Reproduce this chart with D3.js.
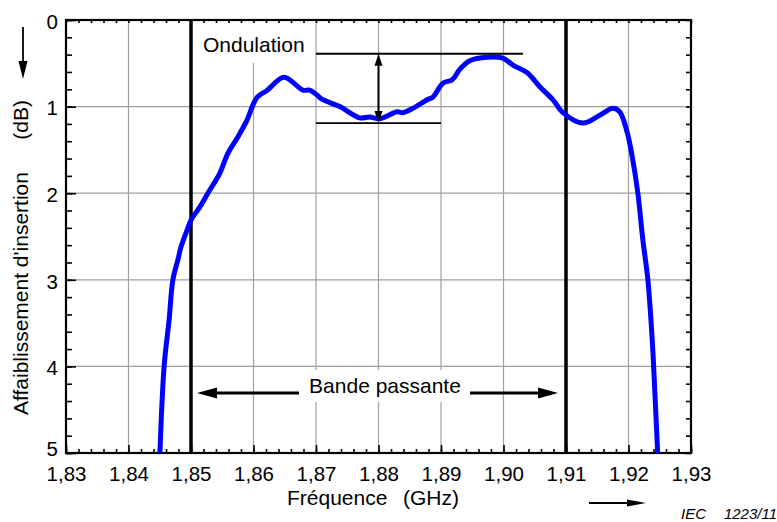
<!DOCTYPE html>
<html>
    <head>
        <meta charset="utf-8">
        <title>Affaiblissement d'insertion</title>
        <style>
            body { margin: 0; background: #fff; }
            text { font-family: Arial, "Liberation Sans", sans-serif; fill: #000; }
        </style>
    </head>
    <body>
        <div id="graph"></div>
        <script src="https://cdnjs.cloudflare.com/ajax/libs/d3/7.8.5/d3.min.js"></script>
        <script>
            // frequency (GHz) and insertion loss (dB)
            var freq = [1.8450, 1.8457, 1.8465, 1.8471, 1.8479, 1.8484, 1.8494, 1.8500, 1.8514, 1.8527,
                        1.8546, 1.8559, 1.8575, 1.8590, 1.8598, 1.8606, 1.8622, 1.8649, 1.8679, 1.8690,
                        1.8702, 1.8711, 1.8738, 1.8770, 1.8786, 1.8802, 1.8830, 1.8839, 1.8855, 1.8878,
                        1.8887, 1.8903, 1.8918, 1.8930, 1.8946, 1.8974, 1.8999, 1.9015, 1.9038, 1.9058,
                        1.9079, 1.9095, 1.9127, 1.9154, 1.9175, 1.9186, 1.9198, 1.9206, 1.9215, 1.9223,
                        1.9231, 1.9238, 1.9242, 1.9247];
            var loss = [5.05, 4.0, 3.46, 3.0, 2.77, 2.62, 2.42, 2.31, 2.16, 2.0,
                        1.77, 1.54, 1.35, 1.15, 1.0, 0.89, 0.81, 0.66, 0.81, 0.81,
                        0.87, 0.92, 1.0, 1.13, 1.12, 1.14, 1.06, 1.07, 1.02, 0.92,
                        0.89, 0.73, 0.69, 0.57, 0.47, 0.43, 0.44, 0.52, 0.61, 0.77,
                        0.92, 1.07, 1.19, 1.10, 1.02, 1.06, 1.30, 1.58, 2.0, 2.54,
                        3.0, 3.70, 4.27, 5.05];

            var xTicks = [1.83, 1.84, 1.85, 1.86, 1.87, 1.88, 1.89, 1.90, 1.91, 1.92, 1.93];
            var yTicks = [0, 1, 2, 3, 4, 5];
            var passBand = [1.85, 1.91];
            var rippleTop = 0.39, rippleBottom = 1.19;   // dB

            var width = 777, height = 522;
            var x = d3.scaleLinear().domain([1.83, 1.93]).range([66, 691]);
            var y = d3.scaleLinear().domain([0, 5]).range([20, 453]);

            var fmt = function(d) { return d3.format(".2f")(d).replace(".", ","); };
            var xMinor = d3.range(1.83, 1.9301, 0.002);
            var yMinor = d3.range(0, 5.001, 0.2);

            var svg = d3.select("#graph").append("svg")
                .attr("width", width)
                .attr("height", height);

            svg.append("defs").append("clipPath").attr("id", "plot")
                .append("rect")
                .attr("x", x(1.83)).attr("y", y(0))
                .attr("width", x(1.93) - x(1.83)).attr("height", y(5) - y(0));

            // grid
            svg.selectAll(".vgrid")
                .data(xTicks.filter(function(d, i) { return i > 0 && i < xTicks.length - 1 && passBand.indexOf(d) < 0; }))
                .enter().append("line")
                .attr("x1", function(d) { return x(d); }).attr("x2", function(d) { return x(d); })
                .attr("y1", y(0)).attr("y2", y(5))
                .style("stroke", "#a0a0a0").style("stroke-width", 1.2);
            svg.selectAll(".hgrid")
                .data(yTicks.slice(1, -1))
                .enter().append("line")
                .attr("x1", x(1.83)).attr("x2", x(1.93))
                .attr("y1", function(d) { return y(d); }).attr("y2", function(d) { return y(d); })
                .style("stroke", "#a0a0a0").style("stroke-width", 1.2);

            // white boxes behind labels
            svg.append("rect").attr("x", 197).attr("y", 22).attr("width", 116).attr("height", 41).attr("fill", "#fff");
            svg.append("rect").attr("x", 300).attr("y", 370).attr("width", 169).attr("height", 32).attr("fill", "#fff");

            // pass band limits
            svg.selectAll(".band")
                .data(passBand)
                .enter().append("line")
                .attr("x1", function(d) { return x(d); }).attr("x2", function(d) { return x(d); })
                .attr("y1", y(0)).attr("y2", y(5))
                .style("stroke", "#000").style("stroke-width", 3.5);

            // axes ticks
            var tickStyle = function(g) {
                g.select(".domain").remove();
                g.selectAll("line").style("stroke", "#000").style("stroke-width", 1.6);
                g.selectAll("text").style("font-size", "20.5px").style("font-family", "Arial, 'Liberation Sans', sans-serif");
            };
            svg.append("g").attr("transform", "translate(0," + y(5) + ")")
                .call(d3.axisBottom(x).tickValues(xMinor).tickSize(-4).tickFormat("")).call(tickStyle);
            svg.append("g").attr("transform", "translate(0," + y(5) + ")")
                .call(d3.axisBottom(x).tickValues(xTicks).tickSize(-8).tickPadding(13).tickFormat(fmt)).call(tickStyle);
            svg.append("g").attr("transform", "translate(0," + y(0) + ")")
                .call(d3.axisTop(x).tickValues(xMinor).tickSize(-3).tickFormat("")).call(tickStyle);
            svg.append("g").attr("transform", "translate(" + x(1.83) + ",0)")
                .call(d3.axisLeft(y).tickValues(yMinor).tickSize(-6).tickFormat("")).call(tickStyle);
            svg.append("g").attr("transform", "translate(" + x(1.83) + ",0)")
                .call(d3.axisLeft(y).tickValues(yTicks).tickSize(-10).tickPadding(8).tickFormat(d3.format("d")))
                .call(tickStyle)
                .selectAll("text").attr("dy", function(d) { return d === 5 ? "0.1em" : "0.4em"; });
            svg.append("g").attr("transform", "translate(" + x(1.93) + ",0)")
                .call(d3.axisRight(y).tickValues(yMinor).tickSize(-5).tickFormat("")).call(tickStyle);

            // frame
            svg.append("rect")
                .attr("x", x(1.83)).attr("y", y(0))
                .attr("width", x(1.93) - x(1.83)).attr("height", y(5) - y(0))
                .attr("fill", "none").style("stroke", "#000").style("stroke-width", 2.2);

            // curve
            var line = d3.line()
                .x(function(d, i) { return x(freq[i]); })
                .y(function(d, i) { return y(loss[i]); })
                .curve(d3.curveCatmullRom.alpha(0.5));
            svg.append("path")
                .datum(freq)
                .attr("clip-path", "url(#plot)")
                .attr("d", line)
                .attr("fill", "none")
                .style("stroke", "#0000ff").style("stroke-width", 5)
                .style("stroke-linejoin", "round");

            // arrow heads
            function head(tipX, tipY, dir, len, half) {
                // dir: unit vector pointing towards the tip
                var bx = tipX - dir[0] * len, by = tipY - dir[1] * len;
                var px = -dir[1] * half, py = dir[0] * half;
                svg.append("path")
                    .attr("d", "M" + tipX + "," + tipY + "L" + (bx + px) + "," + (by + py) +
                               "L" + (bx - px) + "," + (by - py) + "Z")
                    .attr("fill", "#000");
            }
            function seg(x1, y1, x2, y2, w) {
                svg.append("line").attr("x1", x1).attr("y1", y1).attr("x2", x2).attr("y2", y2)
                    .style("stroke", "#000").style("stroke-width", w);
            }

            // ripple marks
            seg(x(1.87), y(rippleTop), x(1.9031), y(rippleTop), 1.8);
            seg(x(1.87), y(rippleBottom), x(1.89), y(rippleBottom), 1.8);
            seg(x(1.88), y(rippleTop) + 8, x(1.88), y(rippleBottom) - 8, 2);
            head(x(1.88), y(rippleTop), [0, -1], 12, 4);
            head(x(1.88), y(rippleBottom), [0, 1], 12, 4);
            svg.append("text").attr("x", 203).attr("y", 52).style("font-size", "21px").text("Ondulation");

            // pass band arrows
            seg(x(1.85) + 20, 393, 299, 393, 3);
            head(x(1.85) + 6, 393, [-1, 0], 20, 5.5);
            seg(470, 393, x(1.91) - 20, 393, 3);
            head(x(1.91) - 8, 393, [1, 0], 20, 5.5);
            svg.append("text").attr("x", 385).attr("y", 393).attr("text-anchor", "middle")
                .style("font-size", "21px").text("Bande passante");

            // axis titles
            svg.append("text").attr("x", 287).attr("y", 505).style("font-size", "21px").text("Fréquence");
            svg.append("text").attr("x", 403).attr("y", 505).style("font-size", "21px").text("(GHz)");
            svg.append("text").attr("transform", "translate(28,415) rotate(-90)")
                .style("font-size", "21px").text("Affaiblissement d'insertion");
            svg.append("text").attr("transform", "translate(28,100) rotate(-90)").attr("text-anchor", "end")
                .style("font-size", "21px").text("(dB)");

            // direction arrows
            seg(23, 27, 23, 64, 1.8);
            head(23, 79, [0, 1], 18, 4.5);
            seg(589, 503, 630, 503, 1.8);
            head(646, 503, [1, 0], 19, 3.5);

            svg.append("text").attr("x", 681).attr("y", 519).style("font-size", "15px").style("font-style", "italic").text("IEC");
            svg.append("text").attr("x", 777).attr("y", 519).attr("text-anchor", "end")
                .style("font-size", "15px").style("font-style", "italic").text("1223/11");
        </script>
    </body>
</html>
